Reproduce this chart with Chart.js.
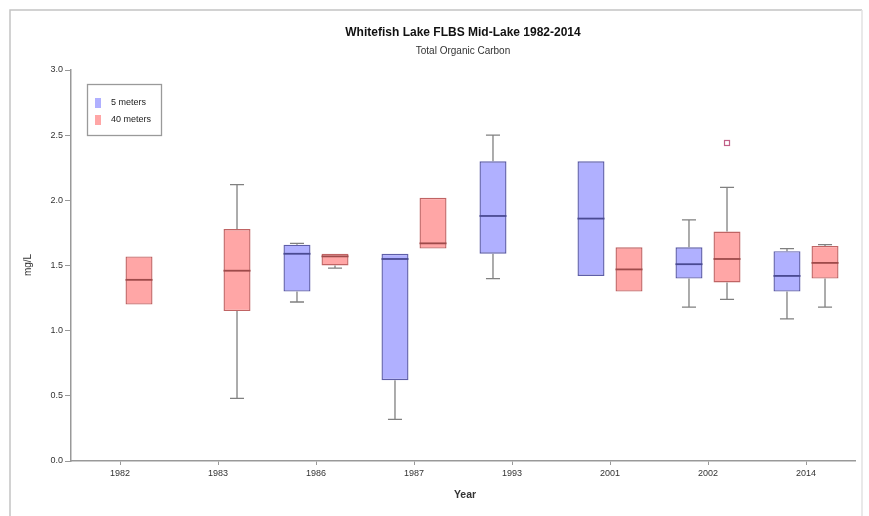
<!DOCTYPE html>
<html>
<head>
<meta charset="utf-8">
<script src="https://cdn.jsdelivr.net/npm/chart.js@4.4.1/dist/chart.umd.min.js"></script>
<style>
  html, body { margin: 0; padding: 0; background: #ffffff; }
  #wrap { width: 869px; height: 516px; position: relative; }
</style>
</head>
<body>
<div id="wrap"><canvas id="c" width="869" height="516"></canvas></div>
<script>
// Sampling years
const years = ['1982', '1983', '1986', '1987', '1993', '2001', '2002', '2014'];

// 5 meters: whisker ends, quartiles and median (mg/L)
const min5 = [null, null, 1.22, 0.32, 1.40, 1.42, 1.18, 1.09];
const q1_5 = [null, null, 1.30, 0.62, 1.59, 1.42, 1.40, 1.30];
const med5 = [null, null, 1.59, 1.55, 1.88, 1.86, 1.51, 1.42];
const q3_5 = [null, null, 1.66, 1.59, 2.30, 2.30, 1.64, 1.61];
const max5 = [null, null, 1.67, 1.59, 2.50, 2.30, 1.85, 1.63];

// 40 meters
const min40 = [1.20, 0.48, 1.48, 1.63, null, 1.30, 1.24, 1.18];
const q1_40 = [1.20, 1.15, 1.50, 1.63, null, 1.30, 1.37, 1.40];
const med40 = [1.39, 1.46, 1.57, 1.67, null, 1.47, 1.55, 1.52];
const q3_40 = [1.57, 1.78, 1.59, 2.02, null, 1.64, 1.76, 1.65];
const max40 = [1.57, 2.12, 1.59, 2.02, null, 1.64, 2.10, 1.66];
const out40 = [[], [], [], [], [], [], [2.44], []];

const yTicks = [0.0, 0.5, 1.0, 1.5, 2.0, 2.5, 3.0];

const series = [
  { label: '5 meters', min: min5, q1: q1_5, med: med5, q3: q3_5, max: max5, out: years.map(() => []),
    fill: '#b0b0ff', edge: '#5e5ea8', medCol: '#4a4a92' },
  { label: '40 meters', min: min40, q1: q1_40, med: med40, q3: q3_40, max: max40, out: out40,
    fill: '#ffa6a6', edge: '#c06464', medCol: '#9e4a4a' }
];

const FONT = '"Liberation Sans", Arial, sans-serif';

// Whiskers, medians and outliers drawn on top of the floating bars
const boxExtras = {
  id: 'boxExtras',
  afterDatasetsDraw(chart) {
    const ctx = chart.ctx;
    const y = chart.scales.y;
    series.forEach((s, di) => {
      const meta = chart.getDatasetMeta(di);
      meta.data.forEach((bar, i) => {
        if (s.q1[i] == null) return;
        const x = bar.x, w = bar.width;
        const yq1 = y.getPixelForValue(s.q1[i]);
        const yq3 = y.getPixelForValue(s.q3[i]);
        const ymin = y.getPixelForValue(s.min[i]);
        const ymax = y.getPixelForValue(s.max[i]);
        const cap = w * 0.26;
        ctx.save();
        ctx.strokeStyle = '#808080';
        ctx.lineWidth = 1.3;
        if (s.max[i] > s.q3[i]) {
          ctx.beginPath();
          ctx.moveTo(x, yq3); ctx.lineTo(x, ymax);
          ctx.moveTo(x - cap, ymax); ctx.lineTo(x + cap, ymax);
          ctx.stroke();
        }
        if (s.min[i] < s.q1[i]) {
          ctx.beginPath();
          ctx.moveTo(x, yq1); ctx.lineTo(x, ymin);
          ctx.moveTo(x - cap, ymin); ctx.lineTo(x + cap, ymin);
          ctx.stroke();
        }
        // median
        const ym = y.getPixelForValue(s.med[i]);
        ctx.strokeStyle = s.medCol;
        ctx.lineWidth = 1.8;
        ctx.beginPath();
        ctx.moveTo(x - w / 2, ym); ctx.lineTo(x + w / 2, ym);
        ctx.stroke();
        // outliers
        s.out[i].forEach(v => {
          const yo = y.getPixelForValue(v);
          ctx.strokeStyle = '#c06088';
          ctx.lineWidth = 1.2;
          ctx.strokeRect(x - 2.5, yo - 2.5, 5, 5);
        });
        ctx.restore();
      });
    });
  },
  afterDraw(chart) {
    const ctx = chart.ctx;
    const area = chart.chartArea;
    const cx = (area.left + area.right) / 2;
    ctx.save();
    // outer frame
    ctx.strokeStyle = '#c4c4c4';
    ctx.lineWidth = 1.5;
    ctx.beginPath();
    ctx.moveTo(10, 530); ctx.lineTo(10, 10); ctx.lineTo(862, 10);
    ctx.stroke();
    ctx.strokeStyle = '#e2e2e2';
    ctx.beginPath();
    ctx.moveTo(862, 10); ctx.lineTo(862, 530);
    ctx.stroke();

    // titles
    ctx.fillStyle = '#111';
    ctx.textAlign = 'center';
    ctx.textBaseline = 'middle';
    ctx.font = 'bold 12px ' + FONT;
    ctx.fillText('Whitefish Lake FLBS Mid-Lake 1982-2014', cx, 33);
    ctx.font = '10px ' + FONT;
    ctx.fillStyle = '#333';
    ctx.fillText('Total Organic Carbon', cx, 51);

    // axis titles
    ctx.font = 'bold 10.5px ' + FONT;
    ctx.fillStyle = '#333';
    ctx.fillText('Year', cx + 2, 495);
    ctx.font = '10px ' + FONT;
    ctx.save();
    ctx.translate(28, 265);
    ctx.rotate(-Math.PI / 2);
    ctx.fillText('mg/L', 0, 0);
    ctx.restore();

    // legend
    ctx.strokeStyle = '#9a9a9a';
    ctx.lineWidth = 1.3;
    ctx.strokeRect(87.5, 84.5, 74, 51);
    ctx.font = '9px ' + FONT;
    ctx.textAlign = 'left';
    series.forEach((s, k) => {
      const yy = 103 + k * 17;
      ctx.fillStyle = s.fill;
      ctx.fillRect(95, yy - 5, 6, 10);
      ctx.fillStyle = '#222';
      ctx.fillText(s.label, 111, yy);
    });
    ctx.restore();
  }
};

new Chart(document.getElementById('c'), {
  type: 'bar',
  data: {
    labels: years,
    datasets: series.map(s => ({
      label: s.label,
      data: s.q1.map((v, i) => v == null ? null : [v, s.q3[i]]),
      backgroundColor: s.fill,
      borderColor: s.edge,
      borderWidth: 1.4,
      borderSkipped: false,
      categoryPercentage: 0.776,
      barPercentage: 0.71
    }))
  },
  options: {
    responsive: false,
    animation: false,
    devicePixelRatio: 1,
    layout: { padding: { left: 11, right: 14, top: 70, bottom: 0 } },
    plugins: {
      legend: { display: false },
      tooltip: { enabled: false },
      title: { display: false }
    },
    scales: {
      x: {
        type: 'category',
        offset: true,
        grid: { display: true, drawOnChartArea: false, drawTicks: true, tickLength: 4, color: '#999', offset: false },
        border: { display: true, color: '#999', width: 1.5 },
        ticks: { font: { family: FONT, size: 9 }, color: '#333', padding: 3, maxRotation: 0 },
        afterFit(scale) { scale.height = 55; }
      },
      y: {
        min: 0,
        max: 3,
        afterBuildTicks(scale) { scale.ticks = yTicks.map(v => ({ value: v })); },
        grid: { display: true, drawOnChartArea: false, drawTicks: true, tickLength: 6, color: '#999' },
        border: { display: true, color: '#999', width: 1.5 },
        ticks: {
          font: { family: FONT, size: 9 }, color: '#333', padding: 2,
          callback: v => Number(v).toFixed(1)
        },
        afterFit(scale) { scale.width = 60; }
      }
    }
  },
  plugins: [boxExtras]
});
</script>
</body>
</html>
